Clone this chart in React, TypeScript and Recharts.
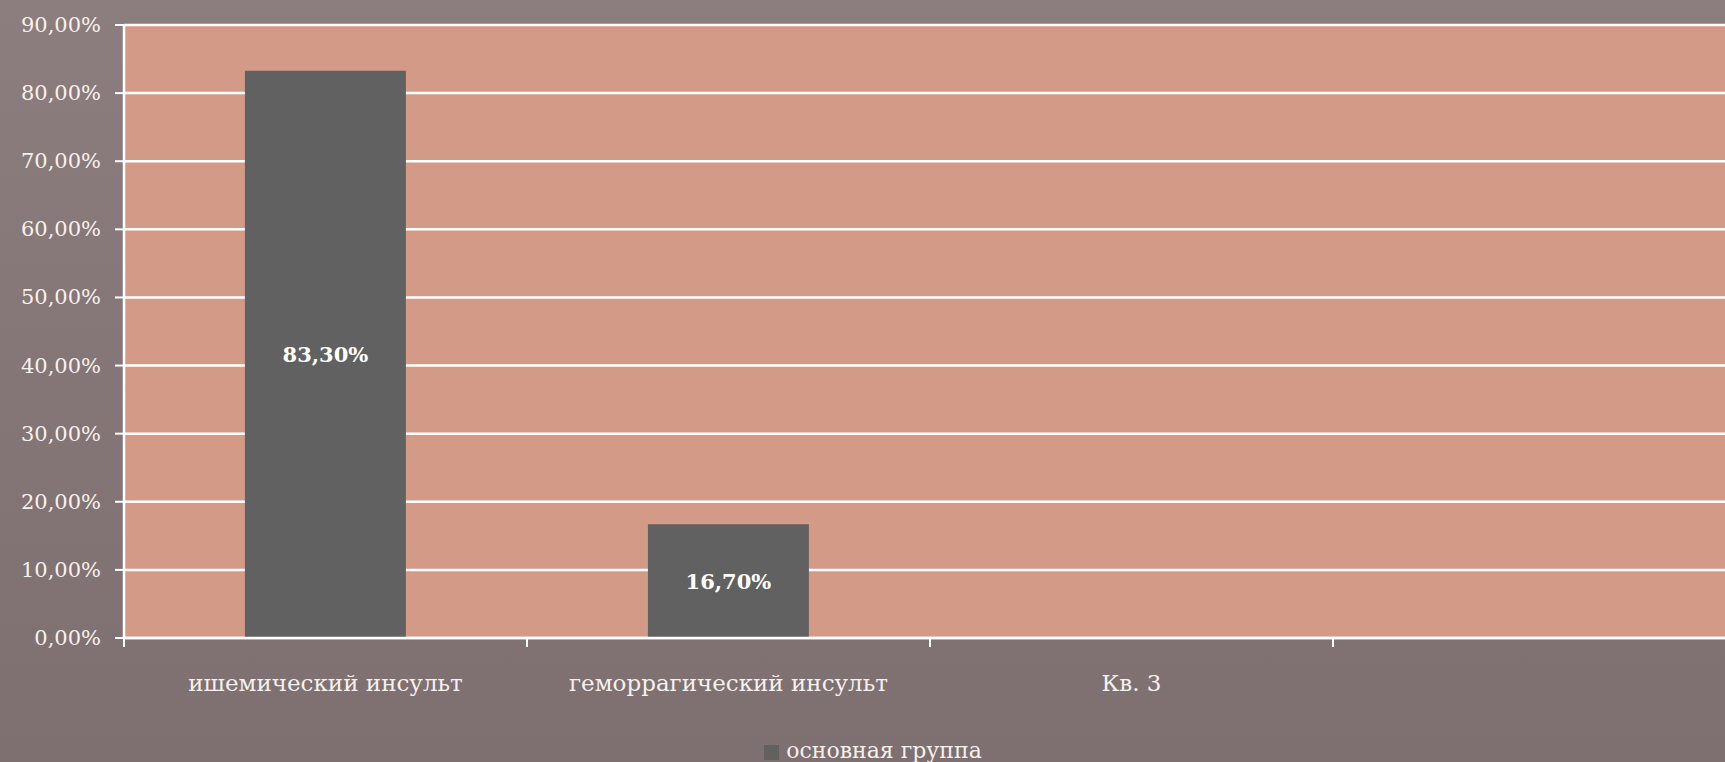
import React from "react";
import {
  BarChart,
  Bar,
  XAxis,
  YAxis,
  CartesianGrid,
  Legend,
  LabelList,
} from "recharts";

// Stroke type shares for the main group; the last slot is an unused quarter.
const categories = ["ишемический инсульт", "геморрагический инсульт", "Кв. 3", ""];
const mainGroup: (number | null)[] = [83.3, 16.7, null, null];
const yTicks = [0, 10, 20, 30, 40, 50, 60, 70, 80, 90];
const seriesName = "основная группа";

const data = categories.map((name, i) => ({ name, value: mainGroup[i] }));

const pct = (v: number) => v.toFixed(2).replace(".", ",") + "%";

const FONT = "'DejaVu Serif', 'Liberation Serif', serif";
const TEXT = "#f7f1ee";
const TICK_LEN = 9;

// Category label plus tick marks on the band edges (between categories).
const XTick = (props: any) => {
  const { x, y, payload, index, visibleTicksCount } = props;
  const half = payload.offset ?? 0;
  const isLast = index === visibleTicksCount - 1;
  return (
    <g>
      <line
        x1={x - half}
        x2={x - half}
        y1={y}
        y2={y + TICK_LEN}
        stroke="#ffffff"
        strokeWidth={2}
      />
      {isLast && (
        <line
          x1={x + half}
          x2={x + half}
          y1={y}
          y2={y + TICK_LEN}
          stroke="#ffffff"
          strokeWidth={2}
        />
      )}
      <text
        x={x}
        y={y + 53}
        textAnchor="middle"
        fill={TEXT}
        fontFamily={FONT}
        fontSize={23}
      >
        {payload.value}
      </text>
    </g>
  );
};

const YTick = (props: any) => {
  const { x, y, payload } = props;
  return (
    <text
      x={x - 12}
      y={y + 7}
      textAnchor="end"
      fill={TEXT}
      fontFamily={FONT}
      fontSize={21}
    >
      {pct(payload.value)}
    </text>
  );
};

export default function App() {
  return (
    <div
      style={{
        position: "absolute",
        left: 0,
        top: 0,
        width: 1725,
        height: 762,
        overflow: "hidden",
        background:
          "linear-gradient(180deg, #8c7e7e 0%, #857677 45%, #7e6f71 100%)",
      }}
    >
      <BarChart
        width={1736}
        height={762}
        data={data}
        margin={{ top: 25, right: 0, bottom: 0, left: 0 }}
        barCategoryGap="30%"
      >
        <CartesianGrid
          horizontal
          vertical={false}
          stroke="#ffffff"
          strokeWidth={2.5}
          fill="#d49a88"
          fillOpacity={1}
        />
        <XAxis
          dataKey="name"
          height={100}
          interval={0}
          tickSize={0}
          tickMargin={0}
          tickLine={false}
          axisLine={{ stroke: "#ffffff", strokeWidth: 2.5 }}
          tick={<XTick />}
        />
        <YAxis
          width={124}
          domain={[0, 90]}
          ticks={yTicks}
          tickSize={9}
          tickLine={{ stroke: "#ffffff", strokeWidth: 2 }}
          axisLine={{ stroke: "#ffffff", strokeWidth: 2.5 }}
          tick={<YTick />}
        />
        <Legend
          verticalAlign="bottom"
          height={24}
          iconType="square"
          iconSize={15}
          wrapperStyle={{
            left: 0,
            width: 1756,
            bottom: 0,
            fontFamily: FONT,
            fontSize: 22,
          }}
          formatter={(v: string) => (
            <span style={{ color: TEXT, marginLeft: 3 }}>{v}</span>
          )}
        />
        <Bar
          dataKey="value"
          name={seriesName}
          fill="#616161"
          isAnimationActive={false}
        >
          <LabelList
            dataKey="value"
            position="center"
            formatter={(v: any) => (v == null ? "" : pct(Number(v)))}
            fill="#ffffff"
            fontFamily={FONT}
            fontSize={21}
            fontWeight="bold"
          />
        </Bar>
      </BarChart>
    </div>
  );
}
